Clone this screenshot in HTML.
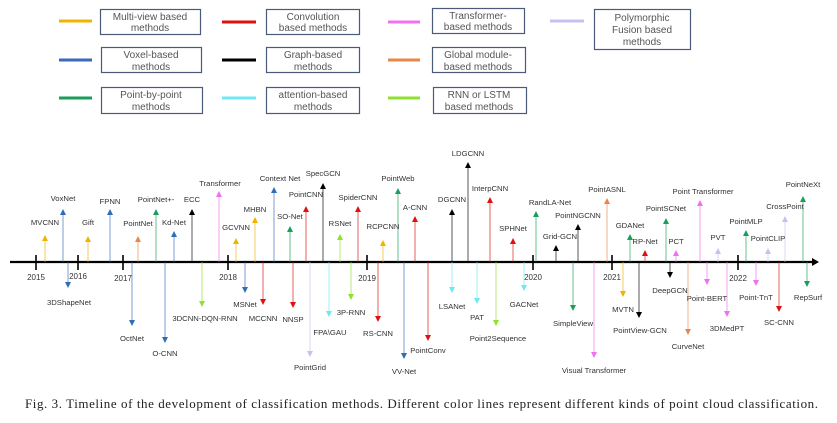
<!DOCTYPE html>
<html><head><meta charset="utf-8"><style>
body{margin:0;background:#fff;}
svg{display:block;font-family:"Liberation Sans",sans-serif;}
.b{fill:#fff;stroke:#4a5a78;stroke-width:1.2}
.lt{font-size:10px;fill:#555;text-anchor:middle}
.l{font-size:7.7px;fill:#333;text-anchor:middle}
.y{font-size:8px;fill:#333;text-anchor:middle}
</style></head><body>
<svg width="837" height="423" viewBox="0 0 837 423">
<g stroke-width="3">
<line x1="59" y1="21" x2="92" y2="21" stroke="#f0b400"/>
<line x1="222" y1="22" x2="256" y2="22" stroke="#e01010"/>
<line x1="388" y1="22" x2="420" y2="22" stroke="#f070f0"/>
<line x1="550" y1="21" x2="584" y2="21" stroke="#c8c0ee"/>
<line x1="59" y1="60" x2="92" y2="60" stroke="#3a6ab8"/>
<line x1="222" y1="60" x2="256" y2="60" stroke="#000"/>
<line x1="388" y1="60" x2="420" y2="60" stroke="#e8874a"/>
<line x1="59" y1="98" x2="92" y2="98" stroke="#1a9e5a"/>
<line x1="222" y1="98" x2="256" y2="98" stroke="#6ee8f4"/>
<line x1="388" y1="98" x2="420" y2="98" stroke="#90e030"/>
</g>
<rect class="b" x="100.5" y="9.5" width="100" height="25"/>
<text class="lt" x="150" y="20">Multi-view based</text><text class="lt" x="150" y="31">methods</text>
<rect class="b" x="266.5" y="9.5" width="93" height="25"/>
<text class="lt" x="313" y="20">Convolution</text><text class="lt" x="313" y="31">based methods</text>
<rect class="b" x="432.5" y="8.5" width="92" height="25"/>
<text class="lt" x="478" y="19">Transformer-</text><text class="lt" x="478" y="30">based methods</text>
<rect class="b" x="594.5" y="9.5" width="96" height="40"/>
<text class="lt" x="642" y="21">Polymorphic</text><text class="lt" x="642" y="33">Fusion based</text><text class="lt" x="642" y="45">methods</text>
<rect class="b" x="101.5" y="47.5" width="100" height="25"/>
<text class="lt" x="151" y="58">Voxel-based</text><text class="lt" x="151" y="70">methods</text>
<rect class="b" x="266.5" y="47.5" width="93" height="25"/>
<text class="lt" x="313" y="58">Graph-based</text><text class="lt" x="313" y="70">methods</text>
<rect class="b" x="432.5" y="47.5" width="93" height="25"/>
<text class="lt" x="478" y="58">Global module-</text><text class="lt" x="478" y="70">based methods</text>
<rect class="b" x="101.5" y="87.5" width="101" height="26"/>
<text class="lt" x="151" y="98">Point-by-point</text><text class="lt" x="151" y="110">methods</text>
<rect class="b" x="266.5" y="87.5" width="93" height="26"/>
<text class="lt" x="313" y="98">attention-based</text><text class="lt" x="313" y="110">methods</text>
<rect class="b" x="433.5" y="87.5" width="93" height="26"/>
<text class="lt" x="479" y="98">RNN or LSTM</text><text class="lt" x="479" y="110">based methods</text>

<line x1="10" y1="262" x2="812" y2="262" stroke="#000" stroke-width="2.2"/>
<polygon points="812,258 819,262 812,266" fill="#000"/>
<g stroke="#000" stroke-width="1.6">
<line x1="36" y1="255" x2="36" y2="270"/><line x1="78" y1="255" x2="78" y2="270"/>
<line x1="123" y1="255" x2="123" y2="270"/><line x1="228" y1="255" x2="228" y2="270"/>
<line x1="367" y1="255" x2="367" y2="270"/><line x1="533" y1="255" x2="533" y2="270"/>
<line x1="612" y1="255" x2="612" y2="270"/><line x1="738" y1="255" x2="738" y2="270"/>
</g>
<text class="y" x="36" y="280">2015</text><text class="y" x="78" y="279">2016</text>
<text class="y" x="123" y="281">2017</text><text class="y" x="228" y="280">2018</text>
<text class="y" x="367" y="281">2019</text><text class="y" x="533" y="280">2020</text>
<text class="y" x="612" y="280">2021</text><text class="y" x="738" y="281">2022</text>

<g stroke-width="1.2" stroke-opacity="0.55">
<line x1="45" y1="262" x2="45" y2="240" stroke="#f0b400"/>
<line x1="63" y1="262" x2="63" y2="214" stroke="#3a6ab8"/>
<line x1="88" y1="262" x2="88" y2="241" stroke="#f0b400"/>
<line x1="110" y1="262" x2="110" y2="214" stroke="#3a6ab8"/>
<line x1="138" y1="262" x2="138" y2="241" stroke="#e8874a"/>
<line x1="156" y1="262" x2="156" y2="214" stroke="#1a9e5a"/>
<line x1="174" y1="262" x2="174" y2="236" stroke="#3a6ab8"/>
<line x1="192" y1="262" x2="192" y2="214" stroke="#000"/>
<line x1="219" y1="262" x2="219" y2="196" stroke="#f070f0"/>
<line x1="236" y1="262" x2="236" y2="243" stroke="#f0b400"/>
<line x1="255" y1="262" x2="255" y2="222" stroke="#f0b400"/>
<line x1="274" y1="262" x2="274" y2="192" stroke="#3a6ab8"/>
<line x1="290" y1="262" x2="290" y2="231" stroke="#1a9e5a"/>
<line x1="306" y1="262" x2="306" y2="211" stroke="#e01010"/>
<line x1="323" y1="262" x2="323" y2="188" stroke="#000"/>
<line x1="340" y1="262" x2="340" y2="239" stroke="#90e030"/>
<line x1="358" y1="262" x2="358" y2="211" stroke="#e01010"/>
<line x1="383" y1="262" x2="383" y2="245" stroke="#f0b400"/>
<line x1="398" y1="262" x2="398" y2="193" stroke="#1a9e5a"/>
<line x1="415" y1="262" x2="415" y2="221" stroke="#e01010"/>
<line x1="452" y1="262" x2="452" y2="214" stroke="#000"/>
<line x1="468" y1="262" x2="468" y2="167" stroke="#000"/>
<line x1="490" y1="262" x2="490" y2="202" stroke="#e01010"/>
<line x1="513" y1="262" x2="513" y2="243" stroke="#e01010"/>
<line x1="536" y1="262" x2="536" y2="216" stroke="#1a9e5a"/>
<line x1="556" y1="262" x2="556" y2="250" stroke="#000"/>
<line x1="578" y1="262" x2="578" y2="229" stroke="#000"/>
<line x1="607" y1="262" x2="607" y2="203" stroke="#e8874a"/>
<line x1="630" y1="262" x2="630" y2="239" stroke="#1a9e5a"/>
<line x1="645" y1="262" x2="645" y2="255" stroke="#e01010"/>
<line x1="666" y1="262" x2="666" y2="223" stroke="#1a9e5a"/>
<line x1="676" y1="262" x2="676" y2="255" stroke="#f070f0"/>
<line x1="700" y1="262" x2="700" y2="205" stroke="#f070f0"/>
<line x1="718" y1="262" x2="718" y2="253" stroke="#c8c0ee"/>
<line x1="746" y1="262" x2="746" y2="235" stroke="#1a9e5a"/>
<line x1="768" y1="262" x2="768" y2="253" stroke="#c8c0ee"/>
<line x1="785" y1="262" x2="785" y2="221" stroke="#c8c0ee"/>
<line x1="803" y1="262" x2="803" y2="201" stroke="#1a9e5a"/>
<line x1="68" y1="262" x2="68" y2="283" stroke="#3a6ab8"/>
<line x1="132" y1="262" x2="132" y2="321" stroke="#3a6ab8"/>
<line x1="165" y1="262" x2="165" y2="338" stroke="#3a6ab8"/>
<line x1="202" y1="262" x2="202" y2="302" stroke="#90e030"/>
<line x1="245" y1="262" x2="245" y2="288" stroke="#3a6ab8"/>
<line x1="263" y1="262" x2="263" y2="300" stroke="#e01010"/>
<line x1="293" y1="262" x2="293" y2="303" stroke="#e01010"/>
<line x1="310" y1="262" x2="310" y2="352" stroke="#c8c0ee"/>
<line x1="329" y1="262" x2="329" y2="312" stroke="#6ee8f4"/>
<line x1="351" y1="262" x2="351" y2="295" stroke="#90e030"/>
<line x1="378" y1="262" x2="378" y2="317" stroke="#e01010"/>
<line x1="404" y1="262" x2="404" y2="354" stroke="#3a6ab8"/>
<line x1="428" y1="262" x2="428" y2="336" stroke="#e01010"/>
<line x1="452" y1="262" x2="452" y2="288" stroke="#6ee8f4"/>
<line x1="477" y1="262" x2="477" y2="299" stroke="#6ee8f4"/>
<line x1="496" y1="262" x2="496" y2="321" stroke="#90e030"/>
<line x1="524" y1="262" x2="524" y2="286" stroke="#6ee8f4"/>
<line x1="573" y1="262" x2="573" y2="306" stroke="#1a9e5a"/>
<line x1="594" y1="262" x2="594" y2="353" stroke="#f070f0"/>
<line x1="623" y1="262" x2="623" y2="292" stroke="#f0b400"/>
<line x1="639" y1="262" x2="639" y2="313" stroke="#000"/>
<line x1="670" y1="262" x2="670" y2="273" stroke="#000"/>
<line x1="688" y1="262" x2="688" y2="330" stroke="#e8874a"/>
<line x1="707" y1="262" x2="707" y2="280" stroke="#f070f0"/>
<line x1="727" y1="262" x2="727" y2="312" stroke="#f070f0"/>
<line x1="756" y1="262" x2="756" y2="281" stroke="#f070f0"/>
<line x1="779" y1="262" x2="779" y2="307" stroke="#e01010"/>
<line x1="807" y1="262" x2="807" y2="282" stroke="#1a9e5a"/>
</g>
<g>
<polygon points="42,241 48,241 45,235" fill="#f0b400"/>
<polygon points="60,215 66,215 63,209" fill="#2f6db5"/>
<polygon points="85,242 91,242 88,236" fill="#f0b400"/>
<polygon points="107,215 113,215 110,209" fill="#2f6db5"/>
<polygon points="135,242 141,242 138,236" fill="#e8874a"/>
<polygon points="153,215 159,215 156,209" fill="#1a9e5a"/>
<polygon points="171,237 177,237 174,231" fill="#2f6db5"/>
<polygon points="189,215 195,215 192,209" fill="#000"/>
<polygon points="216,197 222,197 219,191" fill="#f070f0"/>
<polygon points="233,244 239,244 236,238" fill="#f0b400"/>
<polygon points="252,223 258,223 255,217" fill="#f0b400"/>
<polygon points="271,193 277,193 274,187" fill="#2f6db5"/>
<polygon points="287,232 293,232 290,226" fill="#1a9e5a"/>
<polygon points="303,212 309,212 306,206" fill="#e01010"/>
<polygon points="320,189 326,189 323,183" fill="#000"/>
<polygon points="337,240 343,240 340,234" fill="#90e030"/>
<polygon points="355,212 361,212 358,206" fill="#e01010"/>
<polygon points="380,246 386,246 383,240" fill="#f0b400"/>
<polygon points="395,194 401,194 398,188" fill="#1a9e5a"/>
<polygon points="412,222 418,222 415,216" fill="#e01010"/>
<polygon points="449,215 455,215 452,209" fill="#000"/>
<polygon points="465,168 471,168 468,162" fill="#000"/>
<polygon points="487,203 493,203 490,197" fill="#e01010"/>
<polygon points="510,244 516,244 513,238" fill="#e01010"/>
<polygon points="533,217 539,217 536,211" fill="#1a9e5a"/>
<polygon points="553,251 559,251 556,245" fill="#000"/>
<polygon points="575,230 581,230 578,224" fill="#000"/>
<polygon points="604,204 610,204 607,198" fill="#e8874a"/>
<polygon points="627,240 633,240 630,234" fill="#1a9e5a"/>
<polygon points="642,256 648,256 645,250" fill="#e01010"/>
<polygon points="663,224 669,224 666,218" fill="#1a9e5a"/>
<polygon points="673,256 679,256 676,250" fill="#f070f0"/>
<polygon points="697,206 703,206 700,200" fill="#f070f0"/>
<polygon points="715,254 721,254 718,248" fill="#c8c0ee"/>
<polygon points="743,236 749,236 746,230" fill="#1a9e5a"/>
<polygon points="765,254 771,254 768,248" fill="#c8c0ee"/>
<polygon points="782,222 788,222 785,216" fill="#c8c0ee"/>
<polygon points="800,202 806,202 803,196" fill="#1a9e5a"/>
<polygon points="65,282 71,282 68,288" fill="#2f6db5"/>
<polygon points="129,320 135,320 132,326" fill="#2f6db5"/>
<polygon points="162,337 168,337 165,343" fill="#2f6db5"/>
<polygon points="199,301 205,301 202,307" fill="#90e030"/>
<polygon points="242,287 248,287 245,293" fill="#2f6db5"/>
<polygon points="260,299 266,299 263,305" fill="#e01010"/>
<polygon points="290,302 296,302 293,308" fill="#e01010"/>
<polygon points="307,351 313,351 310,357" fill="#c8c0ee"/>
<polygon points="326,311 332,311 329,317" fill="#6ee8f4"/>
<polygon points="348,294 354,294 351,300" fill="#90e030"/>
<polygon points="375,316 381,316 378,322" fill="#e01010"/>
<polygon points="401,353 407,353 404,359" fill="#2f6db5"/>
<polygon points="425,335 431,335 428,341" fill="#e01010"/>
<polygon points="449,287 455,287 452,293" fill="#6ee8f4"/>
<polygon points="474,298 480,298 477,304" fill="#6ee8f4"/>
<polygon points="493,320 499,320 496,326" fill="#90e030"/>
<polygon points="521,285 527,285 524,291" fill="#6ee8f4"/>
<polygon points="570,305 576,305 573,311" fill="#1a9e5a"/>
<polygon points="591,352 597,352 594,358" fill="#f070f0"/>
<polygon points="620,291 626,291 623,297" fill="#f0b400"/>
<polygon points="636,312 642,312 639,318" fill="#000"/>
<polygon points="667,272 673,272 670,278" fill="#000"/>
<polygon points="685,329 691,329 688,335" fill="#e8874a"/>
<polygon points="704,279 710,279 707,285" fill="#f070f0"/>
<polygon points="724,311 730,311 727,317" fill="#f070f0"/>
<polygon points="753,280 759,280 756,286" fill="#f070f0"/>
<polygon points="776,306 782,306 779,312" fill="#e01010"/>
<polygon points="804,281 810,281 807,287" fill="#1a9e5a"/>
</g>
<g class="l">
<text x="45" y="225">MVCNN</text>
<text x="63" y="201">VoxNet</text>
<text x="88" y="225">Gift</text>
<text x="110" y="204">FPNN</text>
<text x="138" y="226">PointNet</text>
<text x="156" y="202">PointNet+-</text>
<text x="174" y="225">Kd-Net</text>
<text x="192" y="202">ECC</text>
<text x="220" y="186">Transformer</text>
<text x="236" y="230">GCVNN</text>
<text x="255" y="212">MHBN</text>
<text x="280" y="181">Context Net</text>
<text x="290" y="219">SO-Net</text>
<text x="306" y="197">PointCNN</text>
<text x="323" y="176">SpecGCN</text>
<text x="340" y="226">RSNet</text>
<text x="358" y="200">SpiderCNN</text>
<text x="383" y="229">RCPCNN</text>
<text x="398" y="181">PointWeb</text>
<text x="415" y="210">A-CNN</text>
<text x="452" y="202">DGCNN</text>
<text x="468" y="156">LDGCNN</text>
<text x="490" y="191">InterpCNN</text>
<text x="513" y="231">SPHNet</text>
<text x="550" y="205">RandLA-Net</text>
<text x="560" y="239">Grid-GCN</text>
<text x="578" y="218">PointNGCNN</text>
<text x="607" y="192">PointASNL</text>
<text x="630" y="228">GDANet</text>
<text x="645" y="244">RP-Net</text>
<text x="666" y="211">PointSCNet</text>
<text x="676" y="244">PCT</text>
<text x="703" y="194">Point Transformer</text>
<text x="718" y="240">PVT</text>
<text x="746" y="224">PointMLP</text>
<text x="768" y="241">PointCLIP</text>
<text x="785" y="209">CrossPoint</text>
<text x="803" y="187">PointNeXt</text>
<text x="69" y="305">3DShapeNet</text>
<text x="132" y="341">OctNet</text>
<text x="165" y="356">O-CNN</text>
<text x="205" y="321">3DCNN-DQN-RNN</text>
<text x="245" y="307">MSNet</text>
<text x="263" y="321">MCCNN</text>
<text x="293" y="322">NNSP</text>
<text x="310" y="370">PointGrid</text>
<text x="330" y="335">FPA\GAU</text>
<text x="351" y="315">3P-RNN</text>
<text x="378" y="336">RS-CNN</text>
<text x="404" y="374">VV-Net</text>
<text x="428" y="353">PointConv</text>
<text x="452" y="309">LSANet</text>
<text x="477" y="320">PAT</text>
<text x="498" y="341">Point2Sequence</text>
<text x="524" y="307">GACNet</text>
<text x="573" y="326">SimpleView</text>
<text x="594" y="373">Visual Transformer</text>
<text x="623" y="312">MVTN</text>
<text x="640" y="333">PointView-GCN</text>
<text x="670" y="293">DeepGCN</text>
<text x="688" y="349">CurveNet</text>
<text x="707" y="301">Point-BERT</text>
<text x="727" y="331">3DMedPT</text>
<text x="756" y="300">Point-TnT</text>
<text x="779" y="325">SC-CNN</text>
<text x="808" y="300">RepSurf</text>
</g>
<text x="25" y="408" font-family="Liberation Serif, serif" font-size="13" fill="#222" textLength="793" lengthAdjust="spacing">Fig. 3. Timeline of the development of classification methods. Different color lines represent different kinds of point cloud classification.</text>
</svg>
</body></html>
